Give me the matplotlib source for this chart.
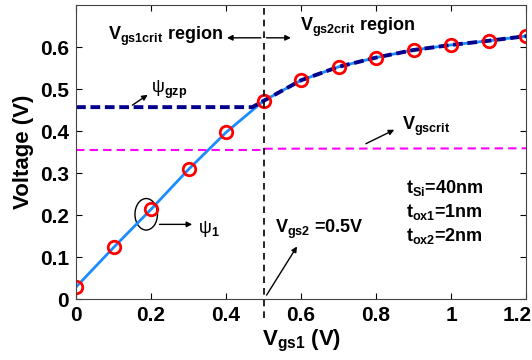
import numpy as np
import matplotlib
matplotlib.use('Agg')
import matplotlib.pyplot as plt
from matplotlib.patches import Ellipse
from matplotlib.transforms import offset_copy

plt.rcParams['font.family'] = ['Liberation Sans', 'DejaVu Sans']
plt.rcParams['mathtext.fontset'] = 'custom'
plt.rcParams['mathtext.rm'] = 'Liberation Sans'
plt.rcParams['mathtext.bf'] = 'Liberation Sans:bold'
plt.rcParams['mathtext.it'] = 'Liberation Sans:italic'

# data
vgs1 = [0, 0.1, 0.2, 0.3, 0.4, 0.5, 0.6, 0.7, 0.8, 0.9, 1.0, 1.1, 1.2]
psi1 = [0.029, 0.123, 0.214, 0.309, 0.397, 0.472, 0.521, 0.553, 0.575, 0.593, 0.605, 0.615, 0.626]
gzp_x = [0, 0.47, 0.5, 0.6, 0.7, 0.8, 0.9, 1.0, 1.1, 1.2]
gzp_y = [0.457, 0.457, 0.472, 0.521, 0.553, 0.575, 0.593, 0.605, 0.615, 0.626]
crit_x = [0, 0.5, 0.5, 1.2]
crit_y = [0.355, 0.355, 0.358, 0.359]
xticks = [0, 0.2, 0.4, 0.6, 0.8, 1.0, 1.2]
xticklabels = ['0', '0.2', '0.4', '0.6', '0.8', '1', '1.2']
yticks = [0, 0.1, 0.2, 0.3, 0.4, 0.5, 0.6]
yticklabels = ['0', '0.1', '0.2', '0.3', '0.4', '0.5', '0.6']

fig = plt.figure(figsize=(5.32, 3.6), dpi=100)
ax = fig.add_axes([0.143, 0.169, 0.846, 0.817])

ax.plot(vgs1, psi1, color='#1a8cff', lw=2)
ax.plot(gzp_x, gzp_y, color='#00008b', lw=2.8, ls=(0, (2.5, 1.2)))
ax.plot(crit_x, crit_y, color='#ff00ff', lw=1.5, ls=(0, (4, 2.5)))
ax.plot(vgs1, psi1, 'o', mfc='none', mec='red', mew=2, ms=9)
ax.plot([0.5, 0.5], [-0.045, 0.7], color='black', lw=1.2, ls=(0, (4, 3)), clip_on=False)

ax.set_xlim(0, 1.2)
ax.set_ylim(0, 0.7)
ax.set_xticks(xticks)
ax.set_xticklabels(xticklabels)
ax.set_yticks(yticks)
ax.set_yticklabels(yticklabels)
ax.tick_params(direction='in', top=True, right=True, labelsize=15, length=4, pad=5)
for lab in ax.get_xticklabels() + ax.get_yticklabels():
    lab.set_fontweight('bold')
last = ax.get_xticklabels()[-1]
last.set_transform(offset_copy(last.get_transform(), fig=fig, x=-9, units='dots'))
for s in ax.spines.values():
    s.set_color('#444444')

ax.set_xlabel(r'$\mathbf{V_{gs1}}$ (V)', fontsize=16, fontweight='bold', labelpad=2)
ax.set_ylabel('Voltage (V)', fontsize=16, fontweight='bold', labelpad=4)

arr = dict(arrowstyle='-|>', color='black', lw=1, mutation_scale=8)
fs = 13
ax.text(0.085, 0.626, r'$\mathbf{V_{gs1crit}}$ region', fontsize=fs, fontweight='bold', va='center')
ax.annotate('', xy=(0.395, 0.622), xytext=(0.5, 0.622), arrowprops=arr)
ax.annotate('', xy=(0.58, 0.622), xytext=(0.5, 0.622), arrowprops=arr)
ax.text(0.597, 0.647, r'$\mathbf{V_{gs2crit}}$ region', fontsize=fs, fontweight='bold', va='center')

ax.annotate('', xy=(0.197, 0.49), xytext=(0.144, 0.458), arrowprops=arr)
ax.text(0.2, 0.498, r'ψ$_{\mathbf{gzp}}$', fontsize=fs, va='center')

ax.annotate('', xy=(0.855, 0.406), xytext=(0.766, 0.367), arrowprops=arr)
ax.text(0.868, 0.41, r'$\mathbf{V_{gscrit}}$', fontsize=fs, va='center')

ax.add_patch(Ellipse((0.187, 0.202), 0.06, 0.075, fill=False, color='black', lw=1))
ax.annotate('', xy=(0.317, 0.178), xytext=(0.215, 0.178), arrowprops=arr)
ax.text(0.325, 0.168, r'ψ$_{\mathbf{1}}$', fontsize=fs, va='center')

ax.annotate('', xy=(0.593, 0.131), xytext=(0.504, 0.004), arrowprops=arr)
ax.text(0.53, 0.165, r'$\mathbf{V_{gs2}}$ =0.5V', fontsize=fs, fontweight='bold', va='center')

ax.text(0.88, 0.265, r'$\mathbf{t_{Si}}$=40nm', fontsize=fs, fontweight='bold', va='center')
ax.text(0.88, 0.208, r'$\mathbf{t_{ox1}}$=1nm', fontsize=fs, fontweight='bold', va='center')
ax.text(0.88, 0.151, r'$\mathbf{t_{ox2}}$=2nm', fontsize=fs, fontweight='bold', va='center')

fig.savefig('out.png', dpi=100)
